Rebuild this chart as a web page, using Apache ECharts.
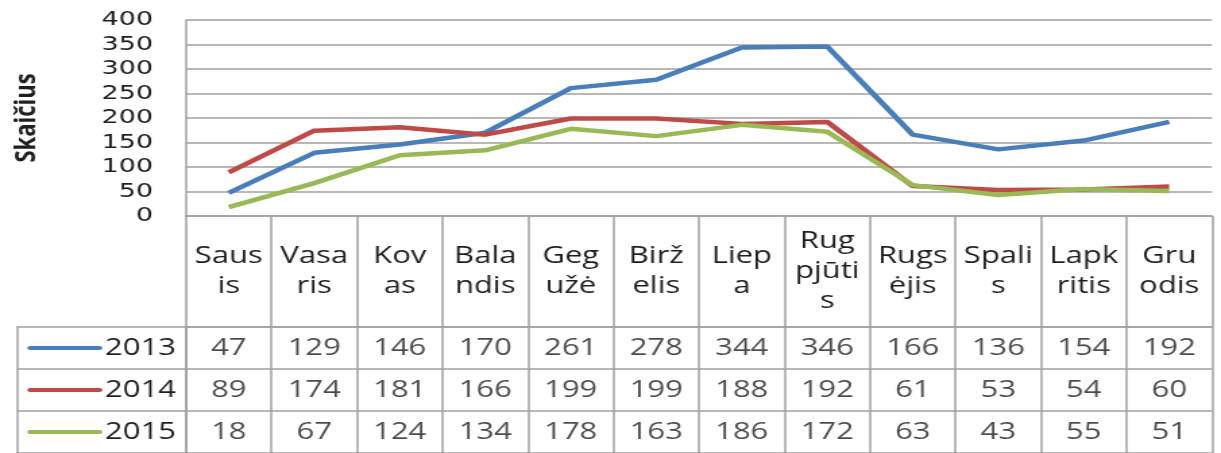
<!DOCTYPE html>
<html><head><meta charset="utf-8">
<script src="https://cdn.jsdelivr.net/npm/echarts@6/dist/echarts.min.js"></script>
<style>
html,body{margin:0;padding:0;background:#fff;overflow:hidden;}
#wrap{width:1221px;height:453px;overflow:hidden;}
#chart{width:905px;height:453px;transform:scaleX(1.349171);transform-origin:0 0;}
</style></head><body><div id="wrap"><div id="chart"></div></div>
<script>
// ---- data ----
const categories = ['Sausis','Vasaris','Kovas','Balandis','Gegužė','Birželis','Liepa','Rugpjūtis','Rugsėjis','Spalis','Lapkritis','Gruodis'];
const categoryLabels = ['Saus\nis','Vasa\nris','Kov\nas','Bala\nndis','Geg\nužė','Birž\nelis','Liep\na','Rug\npjūti\ns','Rugs\nėjis','Spali\ns','Lapk\nritis','Gru\nodis'];
const years = ['2013','2014','2015'];
const values2013 = [47,129,146,170,261,278,344,346,166,136,154,192];
const values2014 = [89,174,181,166,199,199,188,192,61,53,54,60];
const values2015 = [18,67,124,134,178,163,186,172,63,43,55,51];
const yMin = 0, yMax = 400, yStep = 50;
const axisTitle = 'Skaičius';

// ---- layout helpers ----
const W = 905, S = 1221 / W;
const px = x => x / S;
const colors = ['#4A7EBB', '#BE4B48', '#98B954'];
const seriesValues = [values2013, values2014, values2015];
const gridColor = '#a0a0a0';
const txt = '#1e1e1e';
const FF = '"Open Sans", sans-serif';

const tableData = [];
seriesValues.forEach((arr, k) => arr.forEach((v, i) => tableData.push([i, k, v])));

const rich = { t: { fontSize: 23, fontFamily: FF, color: txt, padding: [0, 0, 0, 2], verticalAlign: 'middle' } };
years.forEach((y, k) => {
  rich['k' + k] = { width: 55.6, height: 4, backgroundColor: colors[k], borderRadius: 2, verticalAlign: 'middle' };
});

const chart = echarts.init(document.getElementById('chart'), null, { renderer: 'canvas' });
chart.setOption({
  animation: false,
  backgroundColor: '#ffffff',
  grid: [
    { left: px(186), right: px(9), top: 20, height: 196 },
    { left: px(186), right: px(9), top: 327, height: 127 }
  ],
  xAxis: [
    {
      type: 'category', gridIndex: 0, data: categories, boundaryGap: true,
      axisLine: { show: true, lineStyle: { color: gridColor, width: 1.5 } },
      axisTick: { show: true, interval: 0, length: 111, lineStyle: { color: gridColor, width: 1.5 } },
      axisLabel: {
        interval: 0, formatter: (v, i) => categoryLabels[i],
        fontSize: 23, lineHeight: 30, fontFamily: FF, color: txt,
        verticalAlign: 'middle', margin: 55.5
      },
      splitLine: { show: false }
    },
    {
      type: 'category', gridIndex: 1, data: categories, boundaryGap: true, position: 'top',
      axisLine: { show: true, lineStyle: { color: gridColor, width: 1.5 } },
      axisTick: { show: false }, axisLabel: { show: false },
      splitLine: { show: true, interval: 0, lineStyle: { color: gridColor, width: 1.5 } }
    }
  ],
  yAxis: [
    {
      type: 'value', gridIndex: 0, min: yMin, max: yMax, interval: yStep,
      name: axisTitle, nameLocation: 'middle', nameRotate: 90, nameGap: 107,
      nameTextStyle: { fontSize: 22, fontWeight: 'bold', fontFamily: FF, color: txt },
      axisLine: { show: true, lineStyle: { color: gridColor, width: 1.5 } },
      axisTick: { show: false },
      axisLabel: { fontSize: 20, fontFamily: '"DejaVu Sans", sans-serif', color: txt, margin: px(33) },
      splitLine: { show: true, lineStyle: { color: gridColor, width: 1.5 } }
    },
    {
      type: 'category', gridIndex: 1, data: years, inverse: true, boundaryGap: true, position: 'left',
      axisLine: { show: true, lineStyle: { color: gridColor, width: 1.5 } },
      axisTick: { show: true, interval: 0, length: px(169), lineStyle: { color: gridColor, width: 1.5 } },
      axisLabel: {
        interval: 0, margin: px(10),
        formatter: (v, i) => '{k' + i + '|}{t|' + v + '}',
        rich: rich
      },
      splitLine: { show: true, interval: 0, lineStyle: { color: gridColor, width: 1.5 } }
    },
    {
      type: 'category', gridIndex: 1, data: years, inverse: true, position: 'left', offset: px(169),
      axisLine: { show: true, lineStyle: { color: gridColor, width: 1.5 } },
      axisTick: { show: false }, axisLabel: { show: false }, splitLine: { show: false }
    }
  ],
  series: [
    ...years.map((y, k) => ({
      name: y, type: 'line', xAxisIndex: 0, yAxisIndex: 0,
      data: seriesValues[k], showSymbol: false, symbol: 'none',
      lineStyle: { color: colors[k], width: 4.5 }, itemStyle: { color: colors[k] }
    })),
    {
      type: 'scatter', xAxisIndex: 1, yAxisIndex: 1, data: tableData,
      symbolSize: 0, silent: true,
      label: { show: true, position: 'inside', formatter: p => String(p.data[2]), fontSize: 23, fontFamily: FF, color: txt }
    }
  ]
});
</script></body></html>
